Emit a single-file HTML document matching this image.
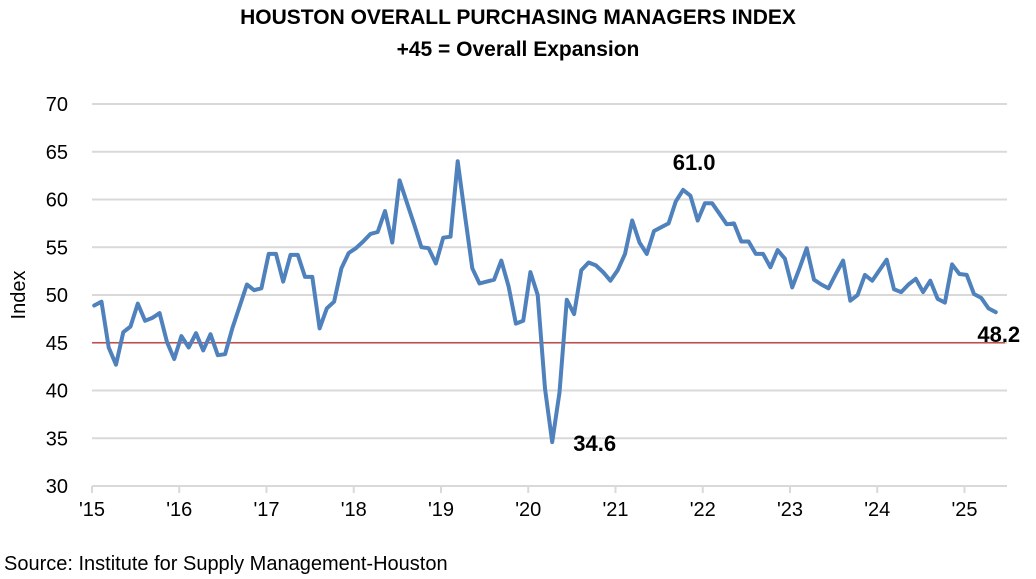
<!DOCTYPE html>
<html><head><meta charset="utf-8"><style>
body{margin:0;background:#fff;}
svg{display:block;font-family:"Liberation Sans",Calibri,sans-serif;}
</style></head><body>
<svg id="chart" width="1036" height="579" viewBox="0 0 1036 579">
<text x="518" y="24" text-anchor="middle" font-size="21" font-weight="bold">HOUSTON OVERALL PURCHASING MANAGERS INDEX</text>
<text x="518" y="56" text-anchor="middle" font-size="21" font-weight="bold">+45 = Overall Expansion</text>
<text transform="translate(25,295) rotate(-90)" text-anchor="middle" font-size="20">Index</text>
<text x="4" y="570" font-size="20">Source: Institute for Supply Management-Houston</text>
<g id="grid"></g><g id="axes"></g><g id="marks"></g>
</svg>
<script>
const yTicks=[30,35,40,45,50,55,60,65,70];
const yearLabels=["'15","'16","'17","'18","'19","'20","'21","'22","'23","'24","'25"];
const threshold=45;
const pmi=[48.9,49.3,44.5,42.7,46.1,46.7,49.1,47.3,47.6,48.1,45.1,43.3,
45.7,44.5,46.0,44.2,45.9,43.7,43.8,46.5,48.8,51.1,50.5,50.7,
54.3,54.3,51.4,54.2,54.2,51.9,51.9,46.5,48.6,49.3,52.8,54.4,
54.9,55.6,56.4,56.6,58.8,55.5,62.0,59.7,57.4,55.0,54.9,53.3,
56.0,56.1,64.0,58.3,52.8,51.2,51.4,51.6,53.6,50.9,47.0,47.3,
52.4,50.0,40.2,34.6,39.8,49.5,48.0,52.6,53.4,53.1,52.4,51.5,
52.6,54.3,57.8,55.5,54.3,56.7,57.1,57.5,59.8,61.0,60.4,57.8,
59.6,59.6,58.5,57.4,57.5,55.6,55.6,54.3,54.3,52.9,54.7,53.8,
50.8,52.8,54.9,51.6,51.1,50.7,52.2,53.6,49.4,50.0,52.1,51.5,
52.6,53.7,50.6,50.3,51.1,51.7,50.3,51.5,49.6,49.2,53.2,52.2,
52.1,50.1,49.7,48.6,48.2];
const annotIdx=[81,63,pmi.length-1];

const NS="http://www.w3.org/2000/svg";
const X0=92,YEARW=87.25,RIGHT=1007;
const yScale=v=>486-(v-30)*(382/40);
const xMonth=i=>X0+(i+0.3)*(YEARW/12);
const xYear=k=>X0+k*YEARW;
function mk(tag,parent,attrs){const e=document.createElementNS(NS,tag);for(const k in attrs)e.setAttribute(k,attrs[k]);parent.appendChild(e);return e;}
const grid=document.getElementById('grid'),axes=document.getElementById('axes'),marks=document.getElementById('marks');
yTicks.forEach(t=>{
 const y=yScale(t);
 if(t>30){const l=mk('line',grid,{x1:X0,x2:RIGHT,y1:y,y2:y,stroke:'#d9d9d9','stroke-width':2});
 
 }
 const tx=mk('text',axes,{x:68,y:y+7,'text-anchor':'end','font-size':20});
 tx.textContent=t;
 
 
});
const ax=mk('line',axes,{x1:X0,x2:RIGHT,y1:486,y2:486,stroke:'#d9d9d9','stroke-width':2});


yearLabels.forEach((lab,k)=>{
 const x=xYear(k);
 const tk=mk('line',axes,{x1:x,x2:x,y1:486,y2:493,stroke:'#d9d9d9','stroke-width':2});
 
 
 const tx=mk('text',axes,{x:x,y:516,'text-anchor':'middle','font-size':20});
 tx.textContent=lab;
 
 
});
const ty=yScale(threshold);
const th=mk('line',marks,{x1:X0,x2:1005,y1:ty,y2:ty,stroke:'#c0504d','stroke-width':1.5});


const pts=pmi.map((v,i)=>xMonth(i).toFixed(1)+','+yScale(v).toFixed(1)).join(' ');
const pl=mk('polyline',marks,{points:pts,fill:'none',stroke:'#4f81bd','stroke-width':4,'stroke-linejoin':'round','stroke-linecap':'round'});


const offs=[[11,-20,'middle'],[21,9,'start'],[3,30,'middle']];
annotIdx.forEach((i,j)=>{
 const t=mk('text',marks,{x:xMonth(i)+offs[j][0],y:yScale(pmi[i])+offs[j][1],'text-anchor':offs[j][2],'font-size':22,'font-weight':'bold'});
 t.textContent=pmi[i].toFixed(1);
 
 
});
</script>
</body></html>
